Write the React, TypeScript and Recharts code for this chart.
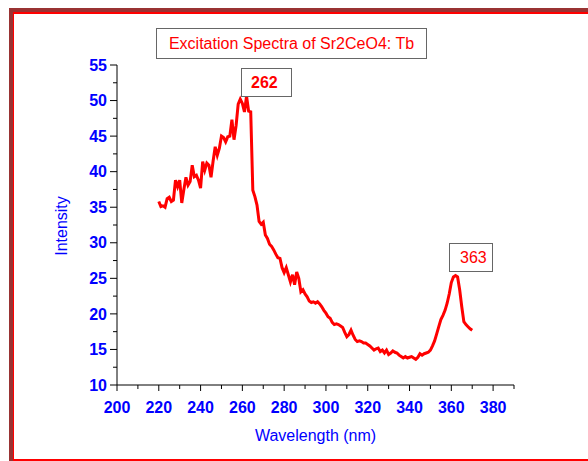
import { LineChart, Line, XAxis, YAxis, Label } from 'recharts';

// Wavelength (nm), 1 nm steps from 220 to 370
const wavelengths: number[] = Array.from({ length: 151 }, (_, i) => 220 + i);

// Intensity
const intensity: number[] = [
  35.8, 35.1, 35.2, 35.0, 36.2, 36.4, 35.8, 36.0, 38.8, 37.9,
  38.8, 35.6, 37.5, 39.2, 38.1, 38.6, 40.9, 39.3, 39.5, 38.8,
  37.7, 41.4, 40.2, 41.2, 40.9, 39.2, 41.5, 43.5, 42.3, 43.3,
  45.0, 44.8, 44.2, 44.9, 45.0, 47.3, 44.5, 46.5, 49.5, 50.2,
  49.6, 48.4, 50.6, 48.5, 48.4, 37.4, 36.5, 35.3, 33.0, 32.6,
  32.9, 31.1, 30.6, 29.8, 29.5, 29.0, 28.4, 27.9, 27.8, 26.5,
  25.8, 26.5, 25.5, 24.5, 25.5, 24.1, 25.9, 25.0, 23.1, 23.4,
  22.8, 22.4, 21.8, 21.6, 21.7, 21.5, 21.7, 21.4, 21.0, 20.5,
  20.1, 19.6, 19.4, 18.8, 18.5, 18.6, 18.5, 18.3, 18.1, 17.4,
  16.8, 17.1, 17.7, 17.0, 16.4, 16.1, 16.2, 16.1, 15.9, 15.9,
  15.7, 15.5, 15.2, 14.9, 15.1, 15.2, 14.7, 14.9, 14.5, 14.9,
  14.3, 14.5, 14.8, 14.6, 14.5, 14.2, 14.0, 13.8, 14.0, 13.8,
  13.9, 14.0, 13.8, 13.6, 13.9, 14.4, 14.2, 14.4, 14.5, 14.6,
  14.9, 15.5, 16.2, 17.2, 18.2, 19.2, 19.8, 20.5, 21.5, 22.8,
  24.4, 25.2, 25.4, 25.2, 23.4, 21.0, 18.9, 18.5, 18.2, 17.9,
  17.7,
];

const xTicks = [200, 210, 220, 230, 240, 250, 260, 270, 280, 290, 300, 310, 320, 330, 340, 350, 360, 370, 380, 390];
const yTicks = [10, 12.5, 15, 17.5, 20, 22.5, 25, 27.5, 30, 32.5, 35, 37.5, 40, 42.5, 45, 47.5, 50, 52.5, 55];

const title = 'Excitation Spectra of Sr2CeO4: Tb';
const peakLabels = ['262', '363'];

const data = wavelengths.map((w, i) => ({ w, v: intensity[i] }));

const FONT = '"Liberation Sans", Arial, sans-serif';
const BLUE = '#0000FF';
const RED = '#FF0000';

function XTick({ x, y, payload }: any) {
  const major = payload.value % 20 === 0;
  return (
    <g>
      <line x1={x} x2={x} y1={y} y2={y + (major ? 6 : 4)} stroke="#000" strokeWidth={1} />
      {major && (
        <text x={x} y={y + 28} textAnchor="middle" fill={BLUE} fontFamily={FONT} fontSize={16} fontWeight="bold">
          {payload.value}
        </text>
      )}
    </g>
  );
}

function YTick({ x, y, payload }: any) {
  const major = payload.value % 5 === 0;
  return (
    <g>
      <line x1={x - (major ? 7 : 4)} x2={x} y1={y} y2={y} stroke="#000" strokeWidth={1} />
      {major && (
        <text x={x - 10} y={y + 5.7} textAnchor="end" fill={BLUE} fontFamily={FONT} fontSize={16} fontWeight="bold">
          {payload.value}
        </text>
      )}
    </g>
  );
}

function XTitle({ viewBox }: any) {
  return (
    <text x={viewBox.x + viewBox.width / 2} y={viewBox.y + 56} textAnchor="middle" fill={BLUE} fontFamily={FONT} fontSize={16}>
      Wavelength (nm)
    </text>
  );
}

function YTitle({ viewBox }: any) {
  const cx = 67;
  const cy = viewBox.y + viewBox.height / 2 + 1;
  return (
    <text x={cx} y={cy} transform={`rotate(-90 ${cx} ${cy})`} textAnchor="middle" fill={BLUE} fontFamily={FONT} fontSize={16}>
      Intensity
    </text>
  );
}

const boxStyle: React.CSSProperties = {
  position: 'absolute',
  boxSizing: 'border-box',
  border: '1px solid #666',
  background: '#fff',
  color: RED,
  fontFamily: FONT,
  fontSize: 16,
  display: 'flex',
  alignItems: 'center',
  whiteSpace: 'nowrap',
};

export default function App() {
  return (
    <div style={{ position: 'absolute', left: 0, top: 0, width: 588, height: 461, background: '#fff', overflow: 'hidden' }}>
      {/* frame: dark red shadow + red outline */}
      <div style={{ position: 'absolute', left: 9, top: 8, width: 579, height: 4, background: '#993333' }} />
      <div style={{ position: 'absolute', left: 9, top: 8, width: 4, height: 453, background: '#993333' }} />
      <div style={{ position: 'absolute', left: 13, top: 12, width: 575, height: 2, background: RED }} />
      <div style={{ position: 'absolute', left: 13, top: 12, width: 1, height: 449, background: RED }} />
      <div style={{ position: 'absolute', left: 13, top: 459, width: 575, height: 2, background: RED }} />

      <div style={{ position: 'absolute', left: 0, top: 0 }}>
        <LineChart width={588} height={461} data={data} margin={{ top: 65, right: 74, left: 57, bottom: 16 }}>
          <XAxis
            dataKey="w"
            type="number"
            domain={[200, 390]}
            ticks={xTicks}
            interval={0}
            height={60}
            tickSize={0}
            tickMargin={0}
            tickLine={false}
            tick={<XTick />}
            axisLine={{ stroke: '#000', strokeWidth: 1 }}
          >
            <Label content={<XTitle />} />
          </XAxis>
          <YAxis
            type="number"
            domain={[10, 55]}
            ticks={yTicks}
            interval={0}
            width={60}
            tickSize={0}
            tickMargin={0}
            tickLine={false}
            tick={<YTick />}
            axisLine={{ stroke: '#000', strokeWidth: 1 }}
          >
            <Label content={<YTitle />} />
          </YAxis>
          <Line type="linear" dataKey="v" stroke={RED} strokeWidth={3} dot={false} isAnimationActive={false} />
        </LineChart>
      </div>

      <div style={{ ...boxStyle, left: 156, top: 28, width: 271, height: 31, justifyContent: 'center' }}>{title}</div>
      <div style={{ ...boxStyle, left: 241, top: 68, width: 51, height: 29, paddingLeft: 9, fontWeight: 'bold' }}>{peakLabels[0]}</div>
      <div style={{ ...boxStyle, left: 449, top: 243, width: 44, height: 29, paddingLeft: 10 }}>{peakLabels[1]}</div>
    </div>
  );
}
